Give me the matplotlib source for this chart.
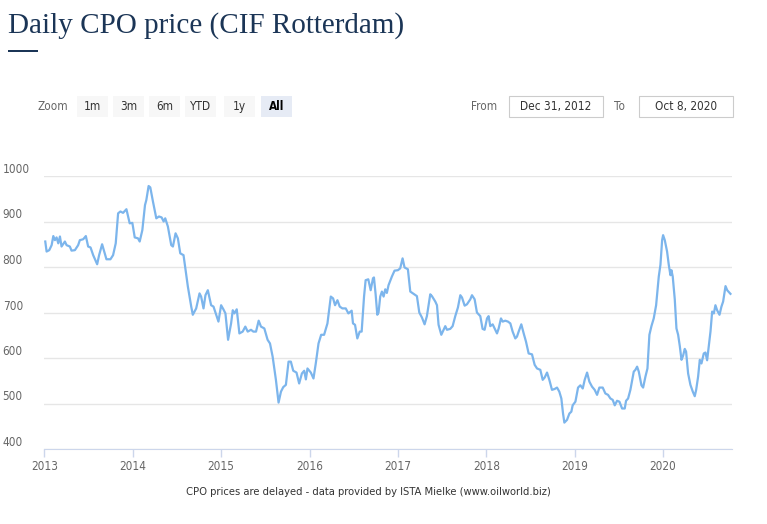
import matplotlib
matplotlib.use("Agg")
import matplotlib.pyplot as plt
from matplotlib.patches import Rectangle

# decimal year / price (USD/t)
years = [
    2013.011, 2013.026, 2013.056, 2013.083, 2013.102, 2013.120, 2013.139, 2013.158, 2013.177, 2013.195,
    2013.233, 2013.252, 2013.289, 2013.308, 2013.346, 2013.383, 2013.402, 2013.440, 2013.470, 2013.496,
    2013.523, 2013.553, 2013.598, 2013.620, 2013.654, 2013.673, 2013.703, 2013.748, 2013.778, 2013.808,
    2013.835, 2013.861, 2013.891, 2013.929, 2013.966, 2013.996, 2014.023, 2014.060, 2014.079, 2014.109,
    2014.139, 2014.154, 2014.180, 2014.199, 2014.229, 2014.267, 2014.297, 2014.327, 2014.350, 2014.368,
    2014.398, 2014.436, 2014.455, 2014.485, 2014.511, 2014.538, 2014.575, 2014.624, 2014.662, 2014.680,
    2014.718, 2014.756, 2014.774, 2014.801, 2014.823, 2014.850, 2014.887, 2014.914, 2014.944, 2014.970,
    2015.000, 2015.026, 2015.049, 2015.079, 2015.113, 2015.132, 2015.150, 2015.177, 2015.207, 2015.244,
    2015.274, 2015.301, 2015.338, 2015.365, 2015.395, 2015.425, 2015.451, 2015.489, 2015.526, 2015.553,
    2015.583, 2015.620, 2015.650, 2015.677, 2015.703, 2015.733, 2015.763, 2015.789, 2015.816, 2015.853,
    2015.883, 2015.914, 2015.940, 2015.959, 2015.977, 2016.015, 2016.045, 2016.071, 2016.102, 2016.132,
    2016.165, 2016.203, 2016.241, 2016.267, 2016.289, 2016.316, 2016.342, 2016.372, 2016.410, 2016.440,
    2016.477, 2016.492, 2016.515, 2016.541, 2016.568, 2016.590, 2016.617, 2016.635, 2016.665, 2016.692,
    2016.718, 2016.729, 2016.748, 2016.767, 2016.781, 2016.800, 2016.819, 2016.838, 2016.857, 2016.875,
    2016.894, 2016.932, 2016.962, 2017.000, 2017.026, 2017.053, 2017.075, 2017.113, 2017.140, 2017.177,
    2017.215, 2017.242, 2017.272, 2017.302, 2017.328, 2017.366, 2017.385, 2017.423, 2017.442, 2017.460,
    2017.491, 2017.517, 2017.536, 2017.555, 2017.592, 2017.619, 2017.649, 2017.679, 2017.706, 2017.725,
    2017.755, 2017.781, 2017.819, 2017.838, 2017.868, 2017.894, 2017.932, 2017.958, 2017.981, 2018.008,
    2018.026, 2018.045, 2018.072, 2018.094, 2018.121, 2018.140, 2018.166, 2018.185, 2018.215, 2018.245,
    2018.272, 2018.298, 2018.328, 2018.347, 2018.366, 2018.396, 2018.423, 2018.449, 2018.479, 2018.517,
    2018.547, 2018.574, 2018.611, 2018.638, 2018.660, 2018.687, 2018.713, 2018.743, 2018.774, 2018.800,
    2018.826, 2018.849, 2018.868, 2018.883, 2018.913, 2018.940, 2018.962, 2018.977, 2019.008, 2019.038,
    2019.064, 2019.091, 2019.113, 2019.140, 2019.166, 2019.196, 2019.226, 2019.253, 2019.279, 2019.317,
    2019.347, 2019.377, 2019.404, 2019.430, 2019.453, 2019.479, 2019.506, 2019.536, 2019.566, 2019.581,
    2019.604, 2019.630, 2019.668, 2019.687, 2019.706, 2019.725, 2019.755, 2019.774, 2019.800, 2019.823,
    2019.845, 2019.868, 2019.894, 2019.921, 2019.951, 2019.970, 2019.989, 2020.000, 2020.019, 2020.045,
    2020.064, 2020.083, 2020.094, 2020.109, 2020.132, 2020.151, 2020.170, 2020.189, 2020.208, 2020.226,
    2020.245, 2020.260, 2020.283, 2020.309, 2020.336, 2020.358, 2020.374, 2020.396, 2020.415, 2020.434,
    2020.460, 2020.479, 2020.498, 2020.517, 2020.536, 2020.555, 2020.574, 2020.592, 2020.611, 2020.638,
    2020.660, 2020.679, 2020.706, 2020.725, 2020.762,
]
prices = [
    856, 834, 837, 848, 868, 859, 865, 852, 867, 845,
    856, 848, 845, 836, 837, 848, 859, 861, 868, 845,
    843, 826, 806, 826, 850, 837, 817, 817, 826, 852,
    918, 922, 919, 927, 896, 897, 865, 863, 856, 881,
    936, 947, 978, 975, 944, 907, 911, 909, 900, 907,
    889, 848, 845, 874, 863, 830, 826, 757, 713, 695,
    709, 742, 735, 709, 738, 749, 716, 713, 695, 680,
    716, 707, 698, 640, 676, 705, 698, 707, 654, 658,
    669, 658, 662, 658, 658, 682, 669, 665, 640, 632,
    603, 552, 502, 526, 536, 541, 592, 592, 572, 568,
    544, 566, 572, 553, 577, 568, 555, 588, 632, 651,
    651, 676, 735, 731, 716, 727, 713, 709, 709, 698,
    704, 676, 673, 643, 658, 658, 735, 771, 773, 749,
    775, 777, 740, 695, 700, 735, 746, 735, 751, 743,
    760, 779, 792, 793, 797, 819, 799, 795, 746, 741,
    736, 700, 689, 674, 692, 740, 736, 724, 716, 673,
    651, 662, 670, 662, 664, 670, 692, 711, 738, 733,
    715, 718, 729, 738, 729, 700, 692, 664, 662, 687,
    692, 670, 674, 665, 654, 665, 687, 680, 682, 680,
    676, 658, 643, 647, 658, 674, 654, 636, 610, 608,
    585, 577, 574, 552, 557, 568, 552, 530, 532, 535,
    526, 511, 478, 458, 464, 478, 482, 496, 504, 535,
    540, 533, 552, 568, 548, 537, 530, 519, 535, 535,
    522, 519, 511, 508, 496, 506, 504, 489, 489, 506,
    511, 530, 570, 574, 581, 570, 540, 535, 559, 577,
    651, 670, 687, 716, 779, 805, 859, 870, 859, 834,
    805, 782, 793, 779, 729, 665, 651, 626, 596, 605,
    620, 614, 566, 541, 526, 516, 530, 559, 596, 588,
    610, 612, 595, 626, 658, 702, 698, 716, 705, 695,
    713, 724, 758, 749, 741,
]

year_ticks = [2013, 2014, 2015, 2016, 2017, 2018, 2019, 2020]
price_ticks = [400, 500, 600, 700, 800, 900, 1000]
zoom_buttons = ["1m", "3m", "6m", "YTD", "1y", "All"]
date_from = "Dec 31, 2012"
date_to = "Oct 8, 2020"

W, H = 767, 524
NAVY = "#1b3556"
SANS = "DejaVu Sans"
COND = "condensed"

fig = plt.figure(figsize=(W / 100, H / 100), dpi=100)


def fx(px):
    return px / W


def fy(py):
    return 1 - py / H


# title + short underline
fig.text(fx(8), fy(33), "Daily CPO price (CIF Rotterdam)", fontsize=21,
         family="Liberation Serif", color=NAVY, va="baseline")
fig.add_artist(Rectangle((fx(8), fy(52)), fx(30), 2.5 / H, transform=fig.transFigure,
                         color=NAVY, lw=0))

# range selector row
fig.text(fx(38), fy(107), "Zoom", fontsize=8.5, family=SANS, stretch=COND, color="#666666", va="center")
btn_x = [77, 113, 149, 185, 224, 261]
for bx, lab in zip(btn_x, zoom_buttons):
    active = lab == "All"
    fig.add_artist(Rectangle((fx(bx), fy(117)), fx(31), 21 / H, transform=fig.transFigure,
                             facecolor="#e6ebf5" if active else "#f7f7f7", lw=0))
    fig.text(fx(bx + 15.5), fy(106), lab, fontsize=8.5, family=SANS, stretch=COND,
             color="#000000" if active else "#333333",
             ha="center", va="center", weight="bold" if active else "normal")

fig.text(fx(471), fy(106), "From", fontsize=8.5, family=SANS, stretch=COND, color="#666666", va="center")
fig.text(fx(614), fy(106), "To", fontsize=8.5, family=SANS, stretch=COND, color="#666666", va="center")
for bx, lab in [(509, date_from), (639, date_to)]:
    fig.add_artist(Rectangle((fx(bx), fy(117)), fx(94), 21 / H, transform=fig.transFigure,
                             facecolor="white", edgecolor="#cccccc", lw=0.8))
    fig.text(fx(bx + 47), fy(106), lab, fontsize=8.5, family=SANS, stretch=COND, color="#333333",
             ha="center", va="center")

# plot area
ax = fig.add_axes([fx(44.3), fy(449), fx(731.7 - 44.3), (449 - 176) / H])
ax.plot(years, prices, color="#7cb5ec", lw=1.6, solid_joinstyle="round")
ax.set_xlim(2013.0, 2020.776)
ax.set_ylim(400, 1000)
ax.set_xticks(year_ticks)
ax.set_xticklabels([str(y) for y in year_ticks], family=SANS, stretch=COND, fontsize=8.5, color="#666666")
ax.set_yticks(price_ticks)
ax.set_yticklabels([str(p) for p in price_ticks], family=SANS, stretch=COND, fontsize=8.5, color="#666666")
for lbl in ax.get_yticklabels():
    lbl.set_horizontalalignment("left")
    lbl.set_verticalalignment("bottom")
ax.tick_params(axis="y", length=0, pad=30)
ax.tick_params(axis="x", length=6, width=1, color="#ccd6eb", pad=2)
ax.grid(axis="y", color="#e6e6e6", lw=1)
ax.set_axisbelow(True)
for side in ["top", "right", "left"]:
    ax.spines[side].set_visible(False)
ax.spines["bottom"].set_color("#ccd6eb")

fig.text(fx(368), fy(492), "CPO prices are delayed - data provided by ISTA Mielke (www.oilworld.biz)",
         fontsize=8, family=SANS, stretch=COND, color="#333333", ha="center", va="center")

fig.savefig("out.png", dpi=100)
